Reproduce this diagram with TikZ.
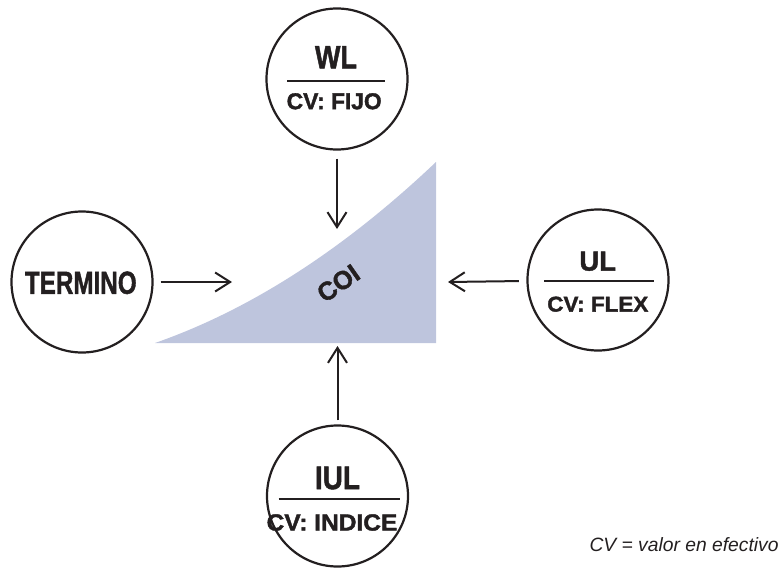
\documentclass[tikz,border=0pt]{standalone}
\usepackage{fontspec}
\setmainfont{Liberation Sans}
\newfontfamily\heavyfont[FakeBold=1.6]{Liberation Sans Bold}
\usepackage{graphicx}
\usetikzlibrary{arrows.meta}
\definecolor{ink}{HTML}{231F20}
\definecolor{coifill}{HTML}{BEC5DD}
\begin{document}
\begin{tikzpicture}[x=1pt,y=-1pt,
  ring/.style={circle,draw=ink,line width=2.2pt,minimum size=141pt,inner sep=0pt},
  lbl/.style={inner sep=0pt,text=ink,font=\heavyfont},
  conn/.style={draw=ink,line width=2pt,-{Straight Barb[length=15pt,width=19pt,line width=2pt]}},
  bar/.style={draw=ink,line width=2pt}]
\useasboundingbox (0,0) rectangle (784,570);
% COI shape
\fill[coifill] (155,343) .. controls (250.3,309.7) and (344,249.3) .. (436,162) -- (436,343) -- cycle;
\node[lbl,rotate=35] (coi) at (338.3,283.3) {\resizebox{45pt}{18pt}{COI}};
% circles
\node[ring] (wl) at (337,79) {};
\node[ring] (tm) at (82,282) {};
\node[ring] (ul) at (598,280) {};
\node[ring] (iul) at (337.5,496) {};
% labels
\node[lbl] (wlt) at (336,57.2) {\resizebox{42pt}{22.3pt}{WL}};
\node[lbl] (wlc) at (334.2,101.3) {\resizebox{95pt}{16pt}{CV: FIJO}};
\node[lbl] (ult) at (597.7,261.2) {\resizebox{36.7pt}{19pt}{UL}};
\node[lbl] (ulc) at (597.8,304.2) {\resizebox{101pt}{15pt}{CV: FLEX}};
\node[lbl] (tmt) at (80.8,282.8) {\resizebox{111.7pt}{22.3pt}{TERMINO}};
\node[lbl] (iult) at (337.5,478) {\resizebox{45pt}{22.6pt}{IUL}};
\node[lbl] (iulc) at (332,522.5) {\resizebox{130.7pt}{16.3pt}{CV: INDICE}};
% divider bars
\draw[bar] ([shift={(-50,2)}]wl.center) -- ([shift={(48,2)}]wl.center);
\draw[bar] ([shift={(-54,1)}]ul.center) -- ([shift={(56,1)}]ul.center);
\draw[bar] ([shift={(-59,3)}]iul.center) -- ([shift={(62,3)}]iul.center);
% arrow ends
\coordinate (wlend) at (337,229);
\coordinate (tmend) at (232,282);
\coordinate (ulend) at (448,282);
\coordinate (iulend) at (337.5,346);
\draw[conn,shorten <=8pt] (wl) -- (wlend);
\draw[conn,shorten <=7pt] (tm) -- (tmend);
\draw[conn,shorten <=7.6pt] (ul) -- (ulend);
\draw[conn,shorten <=4pt] (iul) -- (iulend);
% footnote
\node[inner sep=0pt,anchor=base west,text=ink,font=\itshape\fontsize{20}{24}\selectfont] (note) at (589.3,551.7) {\resizebox{189pt}{!}{CV = valor en efectivo}};
\end{tikzpicture}
\end{document}
